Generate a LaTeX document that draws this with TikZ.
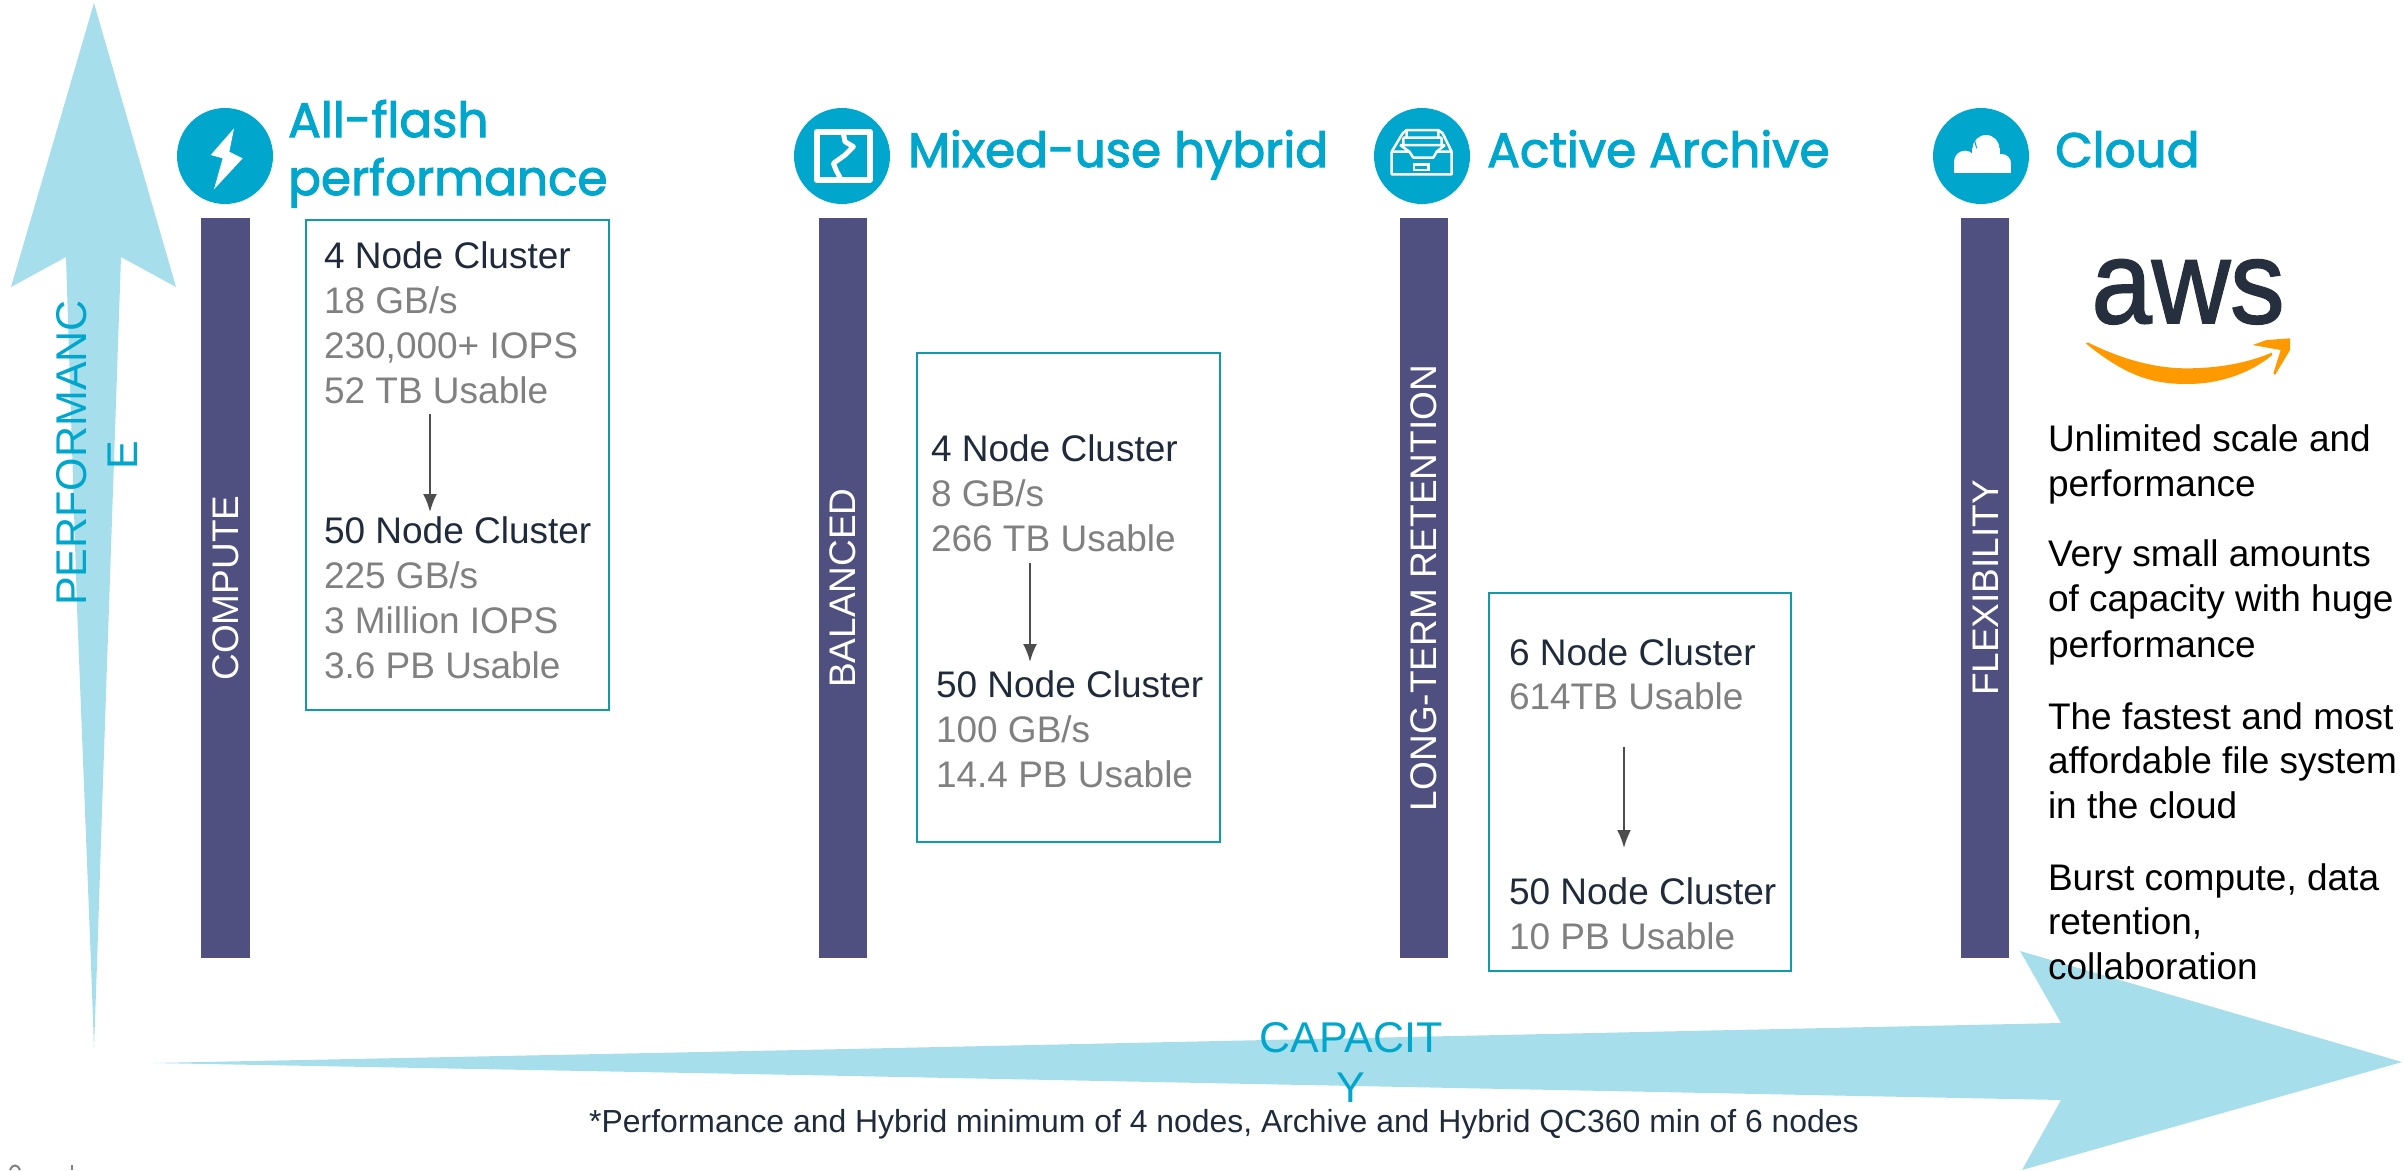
\documentclass[tikz,border=0pt]{standalone}
\usepackage{fontspec}
\setmainfont{Liberation Sans}
\newfontfamily\hfont[FakeBold=2.2]{Poppins}
\newfontfamily\awsfont[FakeBold=1.6]{Liberation Sans}
\definecolor{lblue}{HTML}{A6DEEB}
\definecolor{teal}{HTML}{00A6CC}
\definecolor{barc}{HTML}{4F4F80}
\definecolor{boxc}{HTML}{0E9BAE}
\definecolor{dk}{HTML}{1F2A3A}
\definecolor{gy}{HTML}{808080}
\definecolor{arr}{HTML}{4D4D4D}
\definecolor{awsd}{HTML}{252F3E}
\definecolor{awso}{HTML}{FF9900}
\tikzset{
  base/.style={inner sep=0pt,outer sep=0pt,anchor=base west,font=\fontsize{37}{45}\selectfont},
  dkline/.style={base,text=dk},
  gyline/.style={base,text=gy},
  bkline/.style={base,text=black},
  barlabel/.style={inner sep=0pt,anchor=base,rotate=90,text=white,font=\fontsize{37}{45}\selectfont},
  axlabel/.style={inner sep=0pt,anchor=base,text=teal,font=\fontsize{43}{50}\selectfont},
  head/.style={inner sep=0pt,anchor=base west,text=teal,font=\hfont\fontsize{48.5}{58}\selectfont},
  colbar/.style={fill=barc,draw=none},
  clusterbox/.style={draw=boxc,line width=2pt,fill=none},
  icondisc/.style={circle,fill=teal,draw=none,minimum size=96pt,inner sep=0pt},
  flow/.style={draw=arr,line width=2pt,-{Latex[length=18pt,width=14pt]}}
}
\usetikzlibrary{arrows.meta}
\begin{document}
\begin{tikzpicture}[x=1pt,y=-1pt]
\useasboundingbox (0,0) rectangle (2404,1170);
% axes
\fill[lblue] (94,3) -- (176,287) -- (121,257) -- (109,607) -- (102,811) -- (97,964) -- (94,1048)
  -- (91,964) -- (85,811) -- (77,607) -- (66,257) -- (11,287) -- cycle;
\fill[lblue] (153,1063) -- (800,1050) -- (2061,1023) -- (2020,951) -- (2402,1062) -- (2022,1170) -- (2061,1100) -- (800,1075) -- cycle;
% bars
\fill[colbar] (201,218) rectangle (250,958);
\fill[colbar] (819,218) rectangle (867,958);
\fill[colbar] (1400,218) rectangle (1448,958);
\fill[colbar] (1961,218) rectangle (2009,958);
\node[barlabel] (b1) at (238,588) {COMPUTE};
\node[barlabel] (b2) at (855,588) {BALANCED};
\node[barlabel] (b3) at (1436,588) {LONG-TERM RETENTION};
\node[barlabel] (b4) at (1998,588) {FLEXIBILITY};
% icons
\node[icondisc] (i1) at (225,156) {};
\node[icondisc] (i2) at (842,156) {};
\node[icondisc] (i3) at (1422,156) {};
\node[icondisc] (i4) at (1981,156) {};
\begin{scope}[shift={(170,100)},scale=1/3]
\fill[white] (192,85) -- (122,165) -- (158,175) -- (132,268) -- (218,175) -- (178,155) -- cycle;
\end{scope}
\begin{scope}[shift={(790,105)},scale=1/3]
\draw[white,line width=6pt,line join=round] (80,80) rectangle (240,225);
\draw[white,line width=5pt,line join=round] (160,85) -- (165,110) -- (190,125) -- (165,150) -- (130,175) -- (138,195) -- (152,222);
\end{scope}
\begin{scope}[shift={(1370,105)},scale=1/3]
\draw[white,line width=2.5pt,line join=round] (65,140) -- (118,140) -- (130,158) -- (190,158) -- (200,140) -- (245,140) -- (245,208) -- (65,208) -- cycle;
\draw[white,line width=2.5pt] (132,178) rectangle (175,195);
\draw[white,line width=2.5pt,line join=round] (65,140) -- (98,85) -- (110,75) -- (205,75) -- (218,85) -- (245,140);
\draw[white,line width=2.5pt] (110,75) -- (110,98) (205,75) -- (205,98) (100,98) -- (215,98) (100,98) -- (100,120) (215,98) -- (215,120) (90,120) -- (225,120) (90,120) -- (118,140) (225,120) -- (200,140);
\end{scope}
\begin{scope}[shift={(1900,80)},scale=1/3]
\fill[white] (195,245) circle (33);
\fill[white] (258,205) circle (40);
\fill[white] (305,250) circle (28);
\fill[white] (162,250) rectangle (333,278);
\fill[white] (215,205) rectangle (300,260);
\draw[teal,line width=1pt] (222,175) -- (230,205);
\end{scope}
% headings
\node[head] (h1a) at (288,137) {All-flash};
\node[head] (h1b) at (288,195) {performance};
\node[head] (h2) at (908,167) {Mixed-use hybrid};
\node[head] (h3) at (1487,167) {Active Archive};
\node[head] (h4) at (2055,167) {Cloud};
% axis labels
\node[axlabel,rotate=90] (p1) at (86,453) {PERFORMANC};
\node[axlabel,rotate=90] (p2) at (137,455) {E};
\node[axlabel] (c1) at (1351,1052) {CAPACIT};
\node[axlabel] (c2) at (1351,1102) {Y};
% cluster 1
\draw[clusterbox] (306,220) rectangle (609,710);
\node[dkline] (a1) at (324,268) {4 Node Cluster};
\node[gyline] (a2) at (324,313) {18 GB/s};
\node[gyline] (a3) at (324,358) {230,000+ IOPS};
\node[gyline] (a4) at (324,403) {52 TB Usable};
\node[dkline] (a5) at (324,543) {50 Node Cluster};
\node[gyline] (a6) at (324,588) {225 GB/s};
\node[gyline] (a7) at (324,633) {3 Million IOPS};
\node[gyline] (a8) at (324,678) {3.6 PB Usable};
\coordinate (as) at (430,414); \coordinate (ae) at (430,512);
\draw[flow] (as) -- (ae);
% cluster 2
\draw[clusterbox] (917,353) rectangle (1220,842);
\node[dkline] (d1) at (931,461) {4 Node Cluster};
\node[gyline] (d2) at (931,506) {8 GB/s};
\node[gyline] (d3) at (931,551) {266 TB Usable};
\node[dkline] (d4) at (936,697) {50 Node Cluster};
\node[gyline] (d5) at (936,742) {100 GB/s};
\node[gyline] (d6) at (936,787) {14.4 PB Usable};
\coordinate (ds) at (1030,563); \coordinate (de) at (1030,662);
\draw[flow] (ds) -- (de);
% cluster 3
\draw[clusterbox] (1489,593) rectangle (1791,971);
\node[dkline] (e1) at (1509,665) {6 Node Cluster};
\node[gyline] (e2) at (1509,709) {614TB Usable};
\node[dkline] (e3) at (1509,904) {50 Node Cluster};
\node[gyline] (e4) at (1509,949) {10 PB Usable};
\coordinate (es) at (1624,747); \coordinate (ee) at (1624,848);
\draw[flow] (es) -- (ee);
% aws
\node[inner sep=0pt,anchor=base,text=awsd,font=\awsfont\fontsize{118}{121}\selectfont,xscale=.92] (aws) at (2188,323) {aws};
\begin{scope}[shift={(1900,80)},scale=1/3]
\fill[awso] (557,790) .. controls (680,890) and (760,912) .. (860,912) .. controls (960,912) and (1050,880) .. (1117,825) -- (1115,818) .. controls (1040,850) and (950,865) .. (860,865) .. controls (760,865) and (660,835) .. (565,788) -- cycle;
\fill[awso] (1058,795) -- (1100,780) -- (1170,775) -- (1170,810) -- (1125,885) -- (1120,880) -- (1142,810) -- cycle;
\end{scope}
% cloud text
\node[bkline] (t1) at (2048,451) {Unlimited scale and};
\node[bkline] (t2) at (2048,496) {performance};
\node[bkline] (t3) at (2048,566) {Very small amounts};
\node[bkline] (t4) at (2048,611) {of capacity with huge};
\node[bkline] (t5) at (2048,657) {performance};
\node[bkline] (t6) at (2048,729) {The fastest and most};
\node[bkline] (t7) at (2048,773) {affordable file system};
\node[bkline] (t8) at (2048,818) {in the cloud};
\node[bkline] (t9) at (2048,890) {Burst compute, data};
\node[bkline] (t10) at (2048,934) {retention,};
\node[bkline] (t11) at (2048,979) {collaboration};
% footnote
\node[inner sep=0pt,anchor=base west,text=dk,font=\fontsize{31.9}{38}\selectfont] (fn) at (589,1132) {*Performance and Hybrid minimum of 4 nodes, Archive and Hybrid QC360 min of 6 nodes};
% clipped trace at the page foot
\draw[gy,line width=2pt] (10,1170) .. controls (12,1164) and (18,1164) .. (20,1170);
\draw[gy,line width=2pt] (72,1165) -- (72,1170);
\end{tikzpicture}
\end{document}
